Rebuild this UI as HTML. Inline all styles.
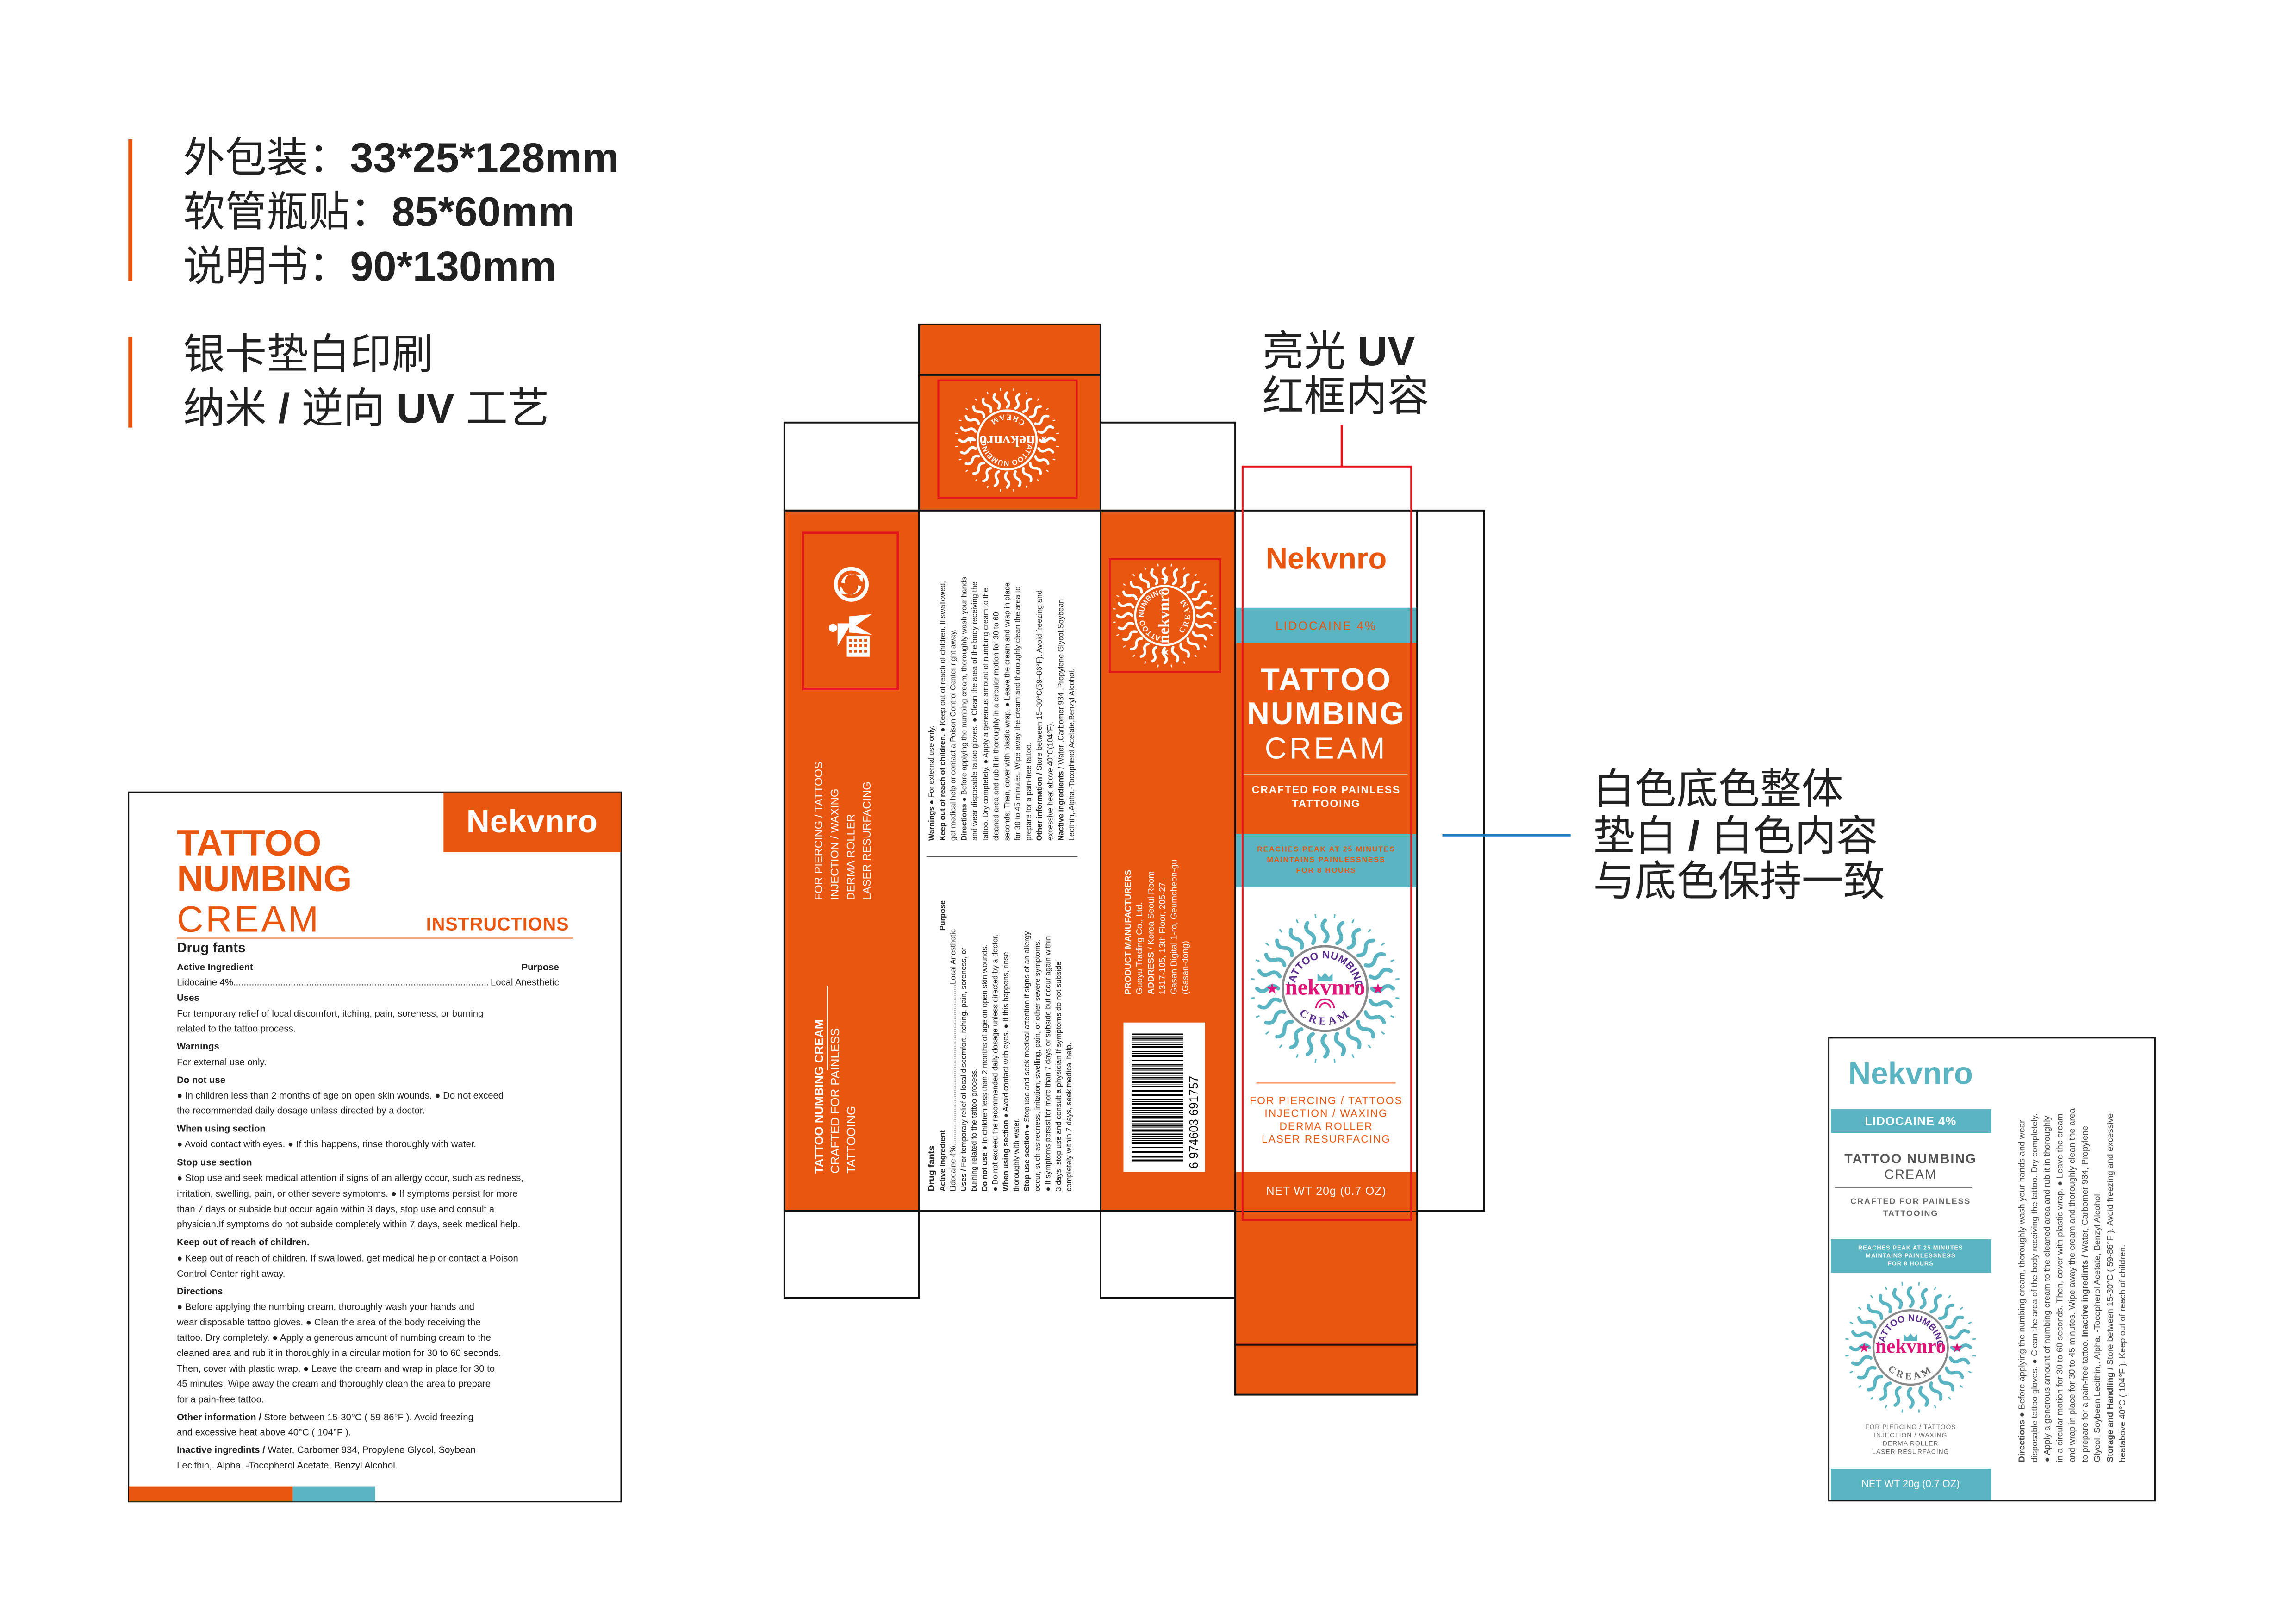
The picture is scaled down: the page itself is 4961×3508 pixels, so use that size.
<!DOCTYPE html>
<html><head><meta charset="utf-8">
<style>
*{margin:0;padding:0;box-sizing:border-box}
body{width:4961px;height:3508px;background:#fff;position:relative;overflow:hidden;font-family:"Liberation Sans","Noto Sans CJK SC",sans-serif;color:#222}
#wrap{position:absolute;left:0;top:0;width:4961px;height:3508px;transform:scale(0.99);transform-origin:0 0}
.a{position:absolute}
.or{background:#e9560f}
.te{background:#5ab4c2}
.bx{position:absolute;border:4px solid #111}
.rot{position:absolute;transform:rotate(-90deg);transform-origin:50% 50%;white-space:nowrap}
.l{position:absolute;left:386px;font-size:20.5px;line-height:24px;white-space:nowrap;color:#222}
.h{font-size:91px;line-height:100px;white-space:nowrap;color:#222}
.c{text-align:center;white-space:nowrap}
svg{position:absolute;overflow:visible}
</style></head><body><div id="wrap">

<!-- headings -->
<div class="a" style="left:280px;top:304px;width:9px;height:310px;background:#e9560f"></div>
<div class="a h" style="left:400px;top:295px">外包装：<b>33*25*128mm</b></div>
<div class="a h" style="left:400px;top:413px">软管瓶贴：<b>85*60mm</b></div>
<div class="a h" style="left:400px;top:532px">说明书：<b>90*130mm</b></div>
<div class="a" style="left:280px;top:735px;width:9px;height:198px;background:#e9560f"></div>
<div class="a h" style="left:400px;top:724px">银卡垫白印刷</div>
<div class="a h" style="left:400px;top:842px">纳米 <b>/</b> 逆向 <b>UV</b> 工艺</div>

<div class="a h" style="left:2755px;top:717px">亮光 <b>UV</b></div>
<div class="a h" style="left:2755px;top:816px">红框内容</div>
<div class="a h" style="left:3477px;top:1673px">白色底色整体</div>
<div class="a h" style="left:3477px;top:1775px">垫白 <b>/</b> 白色内容</div>
<div class="a h" style="left:3477px;top:1874px">与底色保持一致</div>

<!-- ===== BOX DIELINE ===== -->
<div class="bx or" style="left:2004px;top:706px;width:400px;height:410px"></div>
<div class="a" style="left:2004px;top:816px;width:400px;height:4px;background:#111"></div>
<div class="a" style="left:2046px;top:828px;width:306px;height:260px;border:4px solid #e2141c"></div>
<div class="bx" style="left:1710px;top:920px;width:298px;height:196px"></div>
<div class="bx" style="left:2400px;top:920px;width:298px;height:196px"></div>
<div class="bx or" style="left:1710px;top:1112px;width:298px;height:1532px"></div>
<div class="bx" style="left:2004px;top:1112px;width:400px;height:1532px;background:#fff"></div>
<div class="bx or" style="left:2400px;top:1112px;width:298px;height:1532px"></div>
<div class="bx" style="left:2694px;top:1112px;width:401px;height:1532px;background:#fff"></div>
<div class="bx" style="left:3091px;top:1112px;width:150px;height:1532px;background:#fff"></div>
<div class="bx" style="left:1710px;top:2640px;width:298px;height:194px"></div>
<div class="bx" style="left:2400px;top:2640px;width:298px;height:194px"></div>
<div class="bx or" style="left:2694px;top:2640px;width:401px;height:405px"></div>
<div class="a" style="left:2694px;top:2932px;width:401px;height:4px;background:#111"></div>
<div class="a" style="left:3148px;top:1820px;width:280px;height:5px;background:#1b7fc6"></div>

<!-- panel 1 -->
<div class="a" style="left:1750px;top:1160px;width:212px;height:346px;border:5px solid #e2141c"></div>
<svg style="left:1815px;top:1232px" width="86" height="86" viewBox="-43 -43 86 86">
<circle r="38" fill="#fff"/><circle r="30" fill="#e9560f"/>
<path d="M-22 -4 A22 22 0 0 1 16 -15 L10 -22 L26 -20 L24 -4 L19 -10 A17 17 0 0 0 -14 -2 Z" fill="#fff"/>
<path d="M22 4 A22 22 0 0 1 -16 15 L-10 22 L-26 20 L-24 4 L-19 10 A17 17 0 0 0 14 2 Z" fill="#fff"/>
</svg>
<svg style="left:1808px;top:1340px" width="100" height="100" viewBox="0 0 100 100">
<circle cx="10" cy="30" r="9" fill="#fff"/><path d="M20 20 L50 20 L20 70 Z" fill="#fff"/>
<path d="M45 5 L95 0 L60 25 L95 45 L45 40 Z" fill="#fff"/>
<rect x="40" y="48" width="50" height="45" fill="#fff"/>
<g fill="#e9560f"><rect x="45" y="54" width="6" height="6"/><rect x="56" y="54" width="6" height="6"/><rect x="67" y="54" width="6" height="6"/><rect x="78" y="54" width="6" height="6"/><rect x="45" y="66" width="6" height="6"/><rect x="56" y="66" width="6" height="6"/><rect x="67" y="66" width="6" height="6"/><rect x="78" y="66" width="6" height="6"/><rect x="45" y="78" width="6" height="6"/><rect x="56" y="78" width="6" height="6"/><rect x="67" y="78" width="6" height="6"/><rect x="78" y="78" width="6" height="6"/></g>
</svg>
<div class="rot" style="left:1670px;top:1724px;width:340px;height:140px;color:#fff;font-size:24px;line-height:35px">FOR PIERCING / TATTOOS<br>INJECTION / WAXING<br>DERMA ROLLER<br>LASER RESURFACING</div>
<div class="rot" style="left:1633px;top:2288px;width:410px;height:135px;color:#fff;font-size:26px;line-height:35px"><b>TATTOO NUMBING CREAM</b><div style="height:2px;background:#fff;width:185px;margin-left:225px;margin-top:-1px;margin-bottom:-1px"></div>CRAFTED FOR PAINLESS<br>TATTOOING</div>

<!-- panel 2 text -->
<div class="rot" style="left:1845px;top:1327px;width:685px;height:330px;font-size:16.5px;line-height:23.5px;color:#222">
<b>Warnings ●</b> For external use only.<br>
<b>Keep out of reach of children. ●</b> Keep out of reach of children. If swallowed,<br>
get medical help or contact a Poison Control Center right away.<br>
<b>Directions ●</b> Before applying the numbing cream, thoroughly wash your hands<br>
and wear disposable tattoo gloves. ● Clean the area of the body receiving the<br>
tattoo. Dry completely. ● Apply a generous amount of numbing cream to the<br>
cleaned area and rub it in thoroughly in a circular motion for 30 to 60<br>
seconds. Then, cover with plastic wrap. ● Leave the cream and wrap in place<br>
for 30 to 45 minutes. Wipe away the cream and thoroughly clean the area to<br>
prepare for a pain-free tattoo.<br>
<b>Other information / </b>Store between 15–30°C(59–86°F). Avoid freezing and<br>
excessive heat above 40°C(104°F).<br>
<b>Nactive ingredients / </b>Water ,Carbomer 934 ,Propylene Glycol,Soybean<br>
Lecithin,.Alpha.-Tocopherol Acetate,Benzyl Alcohol.</div>
<div class="a" style="left:2022px;top:1868px;width:330px;height:2px;background:#555"></div>
<div class="rot" style="left:1830px;top:2077px;width:715px;height:330px;font-size:16.5px;line-height:23px;color:#222">
<b style="font-size:20px">Drug fants</b><br>
<b>Active Ingredient</b><span style="position:absolute;right:80px"><b>Purpose</b></span><br>
Lidocaine 4%.............................................................................Local Anesthetic<br>
<b>Uses / </b>For temporary relief of local discomfort, itching, pain, soreness, or<br>
burning related to the tattoo process.<br>
<b>Do not use ●</b> In children less than 2 months of age on open skin wounds.<br>
● Do not exceed the recommended daily dosage unless directed by a doctor.<br>
<b>When using section ●</b> Avoid contact with eyes. ● If this happens, rinse<br>
thoroughly with water.<br>
<b>Stop use section ●</b> Stop use and seek medical attention if signs of an allergy<br>
occur, such as redness, irritation, swelling, pain, or other severe symptoms.<br>
● If symptoms persist for more than 7 days or subside but occur again within<br>
3 days, stop use and consult a physician If symptoms do not subside<br>
completely within 7 days, seek medical help.</div>

<!-- panel 3 -->
<div class="a" style="left:2420px;top:1218px;width:245px;height:250px;border:4px solid #e2141c"></div>
<div class="rot" style="left:2355px;top:1925px;width:340px;height:150px;color:#fff;font-size:19px;line-height:25px"><b>PRODUCT MANUFACTURERS</b><br>Guoyu Trading Co., Ltd.<br><b>ADDRESS</b> / Korea Seoul Room<br>1317-105, 13th Floor, 205-27,<br>Gasan Digital 1-ro, Geumcheon-gu<br>(Gasan-dong)</div>
<div class="a" style="left:2452px;top:2231px;width:178px;height:326px;background:#fff"></div>
<div class="a" style="left:2470px;top:2255px;width:112px;height:280px;background:repeating-linear-gradient(180deg,#000 0 3px,#fff 3px 5px,#000 5px 6px,#fff 6px 9px,#000 9px 13px,#fff 13px 15px,#000 15px 16px,#fff 16px 19px)"></div>
<div class="rot" style="left:2450px;top:2380px;width:310px;height:30px;font-size:26px;line-height:30px;color:#000">6 974603 691757</div>

<!-- panel 4 front -->
<div class="a c" style="left:2694px;top:1180px;width:401px;font-size:66px;font-weight:bold;color:#e9560f;line-height:76px">Nekvnro</div>
<div class="a te" style="left:2698px;top:1326px;width:393px;height:78px"></div>
<div class="a c" style="left:2694px;top:1348px;width:401px;font-size:26px;letter-spacing:3px;color:#e9560f;line-height:34px">LIDOCAINE 4%</div>
<div class="a or" style="left:2698px;top:1404px;width:393px;height:416px"></div>
<div class="a c" style="left:2694px;top:1446px;width:401px;font-size:68px;font-weight:bold;color:#fff;line-height:74px;letter-spacing:3px">TATTOO<br>NUMBING</div>
<div class="a c" style="left:2694px;top:1595px;width:401px;font-size:66px;color:#fff;line-height:74px;letter-spacing:6px">CREAM</div>
<div class="a" style="left:2712px;top:1688px;width:360px;height:2px;background:#f3b28f"></div>
<div class="a c" style="left:2694px;top:1708px;width:401px;font-size:23px;font-weight:bold;color:#fff;line-height:30px;letter-spacing:2px">CRAFTED FOR PAINLESS<br>TATTOOING</div>
<div class="a te" style="left:2698px;top:1820px;width:393px;height:116px"></div>
<div class="a c" style="left:2694px;top:1842px;width:401px;font-size:16px;font-weight:bold;color:#e9560f;line-height:23px;letter-spacing:2px">REACHES PEAK AT 25 MINUTES<br>MAINTAINS PAINLESSNESS<br>FOR 8 HOURS</div>
<div class="a" style="left:2742px;top:2362px;width:304px;height:2px;background:#e9560f"></div>
<div class="a c" style="left:2694px;top:2387px;width:401px;font-size:23px;color:#e9560f;line-height:28px;letter-spacing:2px">FOR PIERCING / TATTOOS<br>INJECTION / WAXING<br>DERMA ROLLER<br>LASER RESURFACING</div>
<div class="a or" style="left:2698px;top:2557px;width:393px;height:85px"></div>
<div class="a c" style="left:2694px;top:2583px;width:401px;font-size:25px;color:#fff;line-height:32px;letter-spacing:1px">NET WT 20g (0.7 OZ)</div>
<div class="a" style="left:2710px;top:1016px;width:372px;height:1648px;border:4px solid #e2141c"></div>
<div class="a" style="left:2926px;top:927px;width:5px;height:92px;background:#e2141c"></div>

<!-- logos -->
<svg class="logo" style="left:2727px;top:1992px" width="330" height="330" viewBox="-100 -100 200 200">
<g class="rays" stroke="#5ab4c2"></g>
<circle r="56" fill="#fff" stroke="#8a8a8a" stroke-width="3"/>
<path id="t1" d="M-40 0 A40 40 0 0 1 40 0" fill="none"/>
<path id="b1" d="M-48 0 A48 48 0 0 0 48 0" fill="none"/>
<text font-size="14" font-weight="bold" fill="#5a2d8c" font-family="Liberation Sans,sans-serif"><textPath href="#t1" startOffset="50%" text-anchor="middle">TATTOO NUMBING</textPath></text>
<text font-size="15" font-weight="bold" fill="#5a2d8c" font-family="Liberation Serif,serif" letter-spacing="4"><textPath href="#b1" startOffset="50%" text-anchor="middle">CREAM</textPath></text>
<path d="M-10 -20 L-10 -10 L10 -10 L10 -20 L5 -15 L0 -21 L-5 -15 Z" fill="#5ab4c2"/>
<text x="0" y="8" font-size="30" font-weight="bold" fill="#e0157a" text-anchor="middle" font-family="Liberation Serif,serif">nekvnro</text>
<text x="-70" y="6" font-size="16" fill="#e0157a" text-anchor="middle">★</text>
<text x="70" y="6" font-size="16" fill="#e0157a" text-anchor="middle">★</text>
<path d="M-12 26 A12 12 0 0 1 12 26 M-7 26 A7 7 0 0 1 7 26" stroke="#e0157a" stroke-width="2" fill="none"/>
</svg>

<svg class="logo" style="left:2083px;top:845px" width="230" height="230" viewBox="-100 -100 200 200" transform="rotate(180)">
<g class="rays" stroke="#fff"></g>
<circle r="56" fill="none" stroke="#fff" stroke-width="4"/>
<path id="t2" d="M-40 0 A40 40 0 0 1 40 0" fill="none"/>
<path id="b2" d="M-48 0 A48 48 0 0 0 48 0" fill="none"/>
<text font-size="14" font-weight="bold" fill="#fff"><textPath href="#t2" startOffset="50%" text-anchor="middle">TATTOO NUMBING</textPath></text>
<text font-size="15" font-weight="bold" fill="#fff" letter-spacing="4" font-family="Liberation Serif,serif"><textPath href="#b2" startOffset="50%" text-anchor="middle">CREAM</textPath></text>
<text x="0" y="8" font-size="30" font-weight="bold" fill="#fff" text-anchor="middle" font-family="Liberation Serif,serif">nekvnro</text>
<text x="-70" y="6" font-size="16" fill="#fff" text-anchor="middle">★</text>
<text x="70" y="6" font-size="16" fill="#fff" text-anchor="middle">★</text>
</svg>

<svg class="logo" style="left:2427px;top:1228px" width="230" height="230" viewBox="-100 -100 200 200" transform="rotate(-90)">
<g class="rays" stroke="#fff"></g>
<circle r="56" fill="none" stroke="#fff" stroke-width="4"/>
<path id="t3" d="M-40 0 A40 40 0 0 1 40 0" fill="none"/>
<path id="b3" d="M-48 0 A48 48 0 0 0 48 0" fill="none"/>
<text font-size="14" font-weight="bold" fill="#fff"><textPath href="#t3" startOffset="50%" text-anchor="middle">TATTOO NUMBING</textPath></text>
<text font-size="15" font-weight="bold" fill="#fff" letter-spacing="4" font-family="Liberation Serif,serif"><textPath href="#b3" startOffset="50%" text-anchor="middle">CREAM</textPath></text>
<text x="0" y="8" font-size="30" font-weight="bold" fill="#fff" text-anchor="middle" font-family="Liberation Serif,serif">nekvnro</text>
<text x="-70" y="6" font-size="16" fill="#fff" text-anchor="middle">★</text>
<text x="70" y="6" font-size="16" fill="#fff" text-anchor="middle">★</text>
</svg>

<!-- ===== INSTRUCTION SHEET ===== -->
<div class="bx" style="left:279px;top:1727px;width:1078px;height:1551px;border-width:3px"></div>
<div class="a or" style="left:968px;top:1729px;width:387px;height:130px"></div>
<div class="a c" style="left:968px;top:1752px;width:387px;font-size:70px;font-weight:bold;color:#fff;line-height:80px;letter-spacing:1px">Nekvnro</div>
<div class="a" style="left:386px;top:1800px;font-size:80px;font-weight:bold;color:#e9560f;line-height:78px;white-space:nowrap">TATTOO<br>NUMBING</div>
<div class="a" style="left:386px;top:1966px;font-size:80px;color:#e9560f;line-height:80px;letter-spacing:5px">CREAM</div>
<div class="a" style="left:930px;top:1994px;font-size:40px;font-weight:bold;color:#e9560f;line-height:46px;letter-spacing:1px">INSTRUCTIONS</div>
<div class="a" style="left:386px;top:2046px;width:865px;height:2px;background:#e9560f"></div>
<div class="l" style="top:2051px;font-size:30px;line-height:36px"><b>Drug fants</b></div>
<div class="l" style="top:2099px"><b>Active Ingredient</b></div>
<div class="a" style="left:1100px;top:2099px;font-size:20.5px;line-height:24px;width:120px;text-align:right"><b>Purpose</b></div>
<div class="l" style="top:2132px;width:834px;overflow:hidden">Lidocaine 4%.........................................................................................................................<span style="position:absolute;right:0;background:#fff;padding-left:2px">Local Anesthetic</span></div>
<div class="l" style="top:2166px"><b>Uses</b></div>
<div class="l" style="top:2200px">For temporary relief of local discomfort, itching, pain, soreness, or burning</div>
<div class="l" style="top:2233px">related to the tattoo process.</div>
<div class="l" style="top:2272px"><b>Warnings</b></div>
<div class="l" style="top:2306px">For external use only.</div>
<div class="l" style="top:2345px"><b>Do not use</b></div>
<div class="l" style="top:2379px">● In children less than 2 months of age on open skin wounds. ● Do not exceed</div>
<div class="l" style="top:2412px">the recommended daily dosage unless directed by a doctor.</div>
<div class="l" style="top:2451px"><b>When using section</b></div>
<div class="l" style="top:2485px">● Avoid contact with eyes. ● If this happens, rinse thoroughly with water.</div>
<div class="l" style="top:2525px"><b>Stop use section</b></div>
<div class="l" style="top:2559px">● Stop use and seek medical attention if signs of an allergy occur, such as redness,</div>
<div class="l" style="top:2593px">irritation, swelling, pain, or other severe symptoms. ● If symptoms persist for more</div>
<div class="l" style="top:2627px">than 7 days or subside but occur again within 3 days, stop use and consult a</div>
<div class="l" style="top:2660px">physician.If symptoms do not subside completely within 7 days, seek medical help.</div>
<div class="l" style="top:2699px"><b>Keep out of reach of children.</b></div>
<div class="l" style="top:2734px">● Keep out of reach of children. If swallowed, get medical help or contact a Poison</div>
<div class="l" style="top:2768px">Control Center right away.</div>
<div class="l" style="top:2806px"><b>Directions</b></div>
<div class="l" style="top:2840px">● Before applying the numbing cream, thoroughly wash your hands and</div>
<div class="l" style="top:2874px">wear disposable tattoo gloves. ● Clean the area of the body receiving the</div>
<div class="l" style="top:2907px">tattoo. Dry completely. ● Apply a generous amount of numbing cream to the</div>
<div class="l" style="top:2941px">cleaned area and rub it in thoroughly in a circular motion for 30 to 60 seconds.</div>
<div class="l" style="top:2975px">Then, cover with plastic wrap. ● Leave the cream and wrap in place for 30 to</div>
<div class="l" style="top:3008px">45 minutes. Wipe away the cream and thoroughly clean the area to prepare</div>
<div class="l" style="top:3042px">for a pain-free tattoo.</div>
<div class="l" style="top:3081px"><b>Other information /</b> Store between 15-30°C ( 59-86°F ). Avoid freezing</div>
<div class="l" style="top:3114px">and excessive heat above 40°C ( 104°F ).</div>
<div class="l" style="top:3152px"><b>Inactive ingredints /</b> Water, Carbomer 934, Propylene Glycol, Soybean</div>
<div class="l" style="top:3186px">Lecithin,. Alpha. -Tocopherol Acetate, Benzyl Alcohol.</div>
<div class="a or" style="left:281px;top:3243px;width:358px;height:33px"></div>
<div class="a te" style="left:639px;top:3243px;width:180px;height:33px"></div>

<!-- ===== TUBE LABEL ===== -->
<div class="bx" style="left:3990px;top:2263px;width:715px;height:1013px;border-width:3px"></div>
<div class="a c" style="left:3995px;top:2302px;width:350px;font-size:68px;font-weight:bold;color:#5ab4c2;line-height:80px">Nekvnro</div>
<div class="a te" style="left:3996px;top:2420px;width:350px;height:52px"></div>
<div class="a c" style="left:3995px;top:2430px;width:350px;font-size:26px;font-weight:bold;color:#fff;line-height:32px;letter-spacing:1px">LIDOCAINE 4%</div>
<div class="a c" style="left:3995px;top:2512px;width:350px;font-size:29px;font-weight:bold;color:#555;line-height:34px;letter-spacing:2px">TATTOO NUMBING<br><span style="font-weight:normal">CREAM</span></div>
<div class="a" style="left:4005px;top:2590px;width:300px;height:2px;background:#777"></div>
<div class="a c" style="left:3995px;top:2608px;width:350px;font-size:18px;font-weight:bold;color:#666;line-height:26px;letter-spacing:2px">CRAFTED FOR PAINLESS<br>TATTOOING</div>
<div class="a te" style="left:3996px;top:2704px;width:350px;height:73px"></div>
<div class="a c" style="left:3995px;top:2714px;width:350px;font-size:13px;font-weight:bold;color:#fff;line-height:17px;letter-spacing:1px">REACHES PEAK AT 25 MINUTES<br>MAINTAINS PAINLESSNESS<br>FOR 8 HOURS</div>
<svg class="logo" style="left:4025px;top:2795px" width="290" height="290" viewBox="-100 -100 200 200">
<g class="rays" stroke="#5ab4c2"></g>
<circle r="56" fill="#fff" stroke="#8a8a8a" stroke-width="3"/>
<path id="t4" d="M-40 0 A40 40 0 0 1 40 0" fill="none"/>
<path id="b4" d="M-48 0 A48 48 0 0 0 48 0" fill="none"/>
<text font-size="14" font-weight="bold" fill="#5a2d8c"><textPath href="#t4" startOffset="50%" text-anchor="middle">TATTOO NUMBING</textPath></text>
<text font-size="15" font-weight="bold" fill="#666" letter-spacing="4" font-family="Liberation Serif,serif"><textPath href="#b4" startOffset="50%" text-anchor="middle">CREAM</textPath></text>
<path d="M-10 -20 L-10 -10 L10 -10 L10 -20 L5 -15 L0 -21 L-5 -15 Z" fill="#5ab4c2"/>
<text x="0" y="8" font-size="30" font-weight="bold" fill="#e0157a" text-anchor="middle" font-family="Liberation Serif,serif">nekvnro</text>
<text x="-70" y="6" font-size="16" fill="#e0157a" text-anchor="middle">★</text>
<text x="70" y="6" font-size="16" fill="#e0157a" text-anchor="middle">★</text>
</svg>
<div class="a c" style="left:3995px;top:3104px;width:350px;font-size:14px;color:#666;line-height:18px;letter-spacing:1px">FOR PIERCING / TATTOOS<br>INJECTION / WAXING<br>DERMA ROLLER<br>LASER RESURFACING</div>
<div class="a te" style="left:3996px;top:3205px;width:350px;height:68px"></div>
<div class="a c" style="left:3995px;top:3224px;width:350px;font-size:22px;color:#fff;line-height:28px">NET WT 20g (0.7 OZ)</div>
<div class="rot" style="left:4112px;top:2653px;width:825px;height:250px;font-size:19px;line-height:27.5px;color:#444">
<b>Directions ●</b> Before applying the numbing cream, thoroughly wash your hands and wear<br>
disposable tattoo gloves. ● Clean the area of the body receiving the tattoo. Dry completely.<br>
● Apply a generous amount of numbing cream to the cleaned area and rub it in thoroughly<br>
in a circular motion for 30 to 60 seconds. Then, cover with plastic wrap. ● Leave the cream<br>
and wrap in place for 30 to 45 minutes. Wipe away the cream and thoroughly clean the area<br>
to prepare for a pain-free tattoo. <b>Inactive ingredints /</b> Water, Carbomer 934, Propylene<br>
Glycol, Soybean Lecithin,. Alpha. -Tocopherol Acetate, Benzyl Alcohol.<br>
<b>Storage and Handling /</b> Store between 15-30°C ( 59-86°F ). Avoid freezing and excessive<br>
heatabove 40°C ( 104°F ). Keep out of reach of children.</div>

</div>
<script>
document.querySelectorAll('svg.logo g.rays').forEach(function(g){
  var s='';
  for(var i=0;i<24;i++){
    var a=i*Math.PI/12, c=Math.cos(a), sn=Math.sin(a), px=-sn, py=c;
    var r1=62,r2=90,rm=76;
    var x1=c*r1,y1=sn*r1,x2=c*r2,y2=sn*r2,xm=c*rm,ym=sn*rm;
    s+='<path d="M'+x1.toFixed(1)+' '+y1.toFixed(1)+' Q'+(c*69+px*7).toFixed(1)+' '+(sn*69+py*7).toFixed(1)+' '+xm.toFixed(1)+' '+ym.toFixed(1)+' T'+x2.toFixed(1)+' '+y2.toFixed(1)+'" fill="none" stroke-width="5" stroke-linecap="round"/>';
    var b=a+Math.PI/24;
    s+='<line x1="'+(Math.cos(b)*94).toFixed(1)+'" y1="'+(Math.sin(b)*94).toFixed(1)+'" x2="'+(Math.cos(b)*99).toFixed(1)+'" y2="'+(Math.sin(b)*99).toFixed(1)+'" stroke-width="2"/>';
  }
  g.innerHTML=s;
});
</script>
</body></html>
